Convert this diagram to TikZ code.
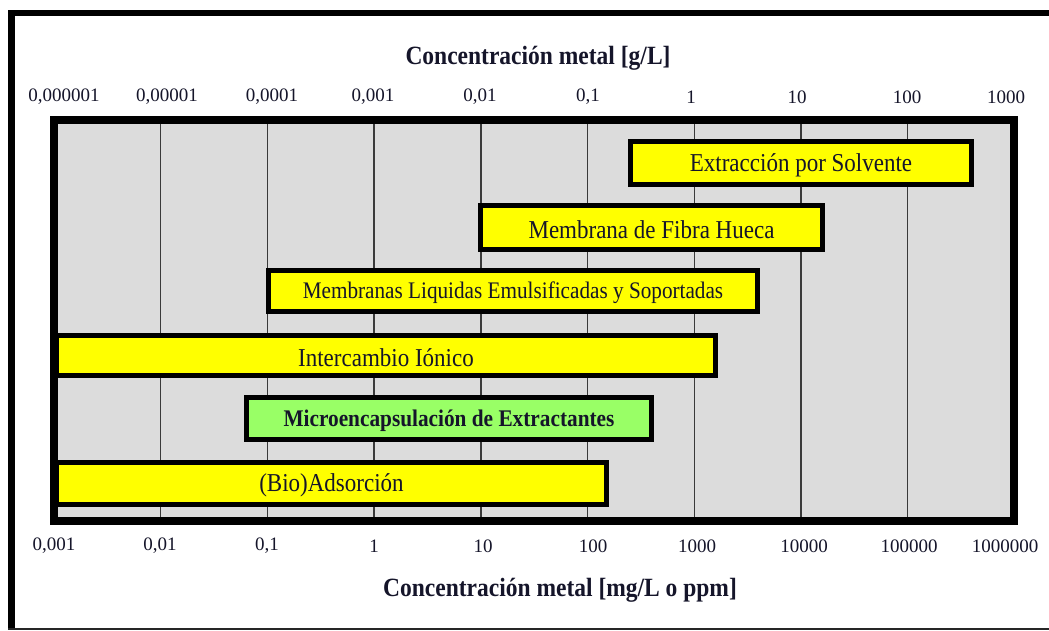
\documentclass[tikz,border=0pt]{standalone}
\usepackage{fontspec}
\setmainfont{Liberation Serif}
\definecolor{plotbg}{HTML}{DCDCDC}
\definecolor{baryellow}{HTML}{FFFF00}
\definecolor{bargreen}{HTML}{99FF66}
\definecolor{txt}{HTML}{15152A}
\definecolor{gridc}{HTML}{3A3A3A}
\newcommand\bartext[1]{\raisebox{-2pt}[\height][\depth]{\scalebox{1}[1.12]{#1}}}
\begin{document}
\begin{tikzpicture}[x=1pt,y=-1pt,
  barbox/.style={draw=black,line width=5pt,fill=baryellow,inner sep=0pt,
    text=txt,font=\fontsize{23}{27}\selectfont},
  axlab/.style={text=txt,inner sep=0pt,font=\fontsize{19}{22}\selectfont},
  axtitle/.style={text=txt,inner sep=0pt,font=\fontsize{23.5}{27}\selectfont\bfseries},
  gridline/.style={draw=gridc,line width=1.4pt}]
\useasboundingbox (0,0) rectangle (1049,631);
\fill[white] (0,0) rectangle (1049,631);
% outer frame
\draw[line width=6.5pt] (1049,13) -- (11.5,13) -- (11.5,629);
\draw[line width=2pt,draw=black!85] (8,629) -- (1049,629);
% plot area
\fill[plotbg] (54,120) rectangle (1014,521);
\foreach \d in {1,...,8}{
  \draw[gridline] ({54+106.7*\d},124) -- ({54+106.7*\d},517);
}
\draw[line width=8pt] (54,120) rectangle (1014,521);
% bars
\node[barbox,minimum width=341pt,minimum height=43pt] (b1) at (801,163) {\bartext{Extracción por Solvente}};
\node[barbox,minimum width=342pt,minimum height=44pt] (b2) at (651.5,227.5) {\bartext{Membrana de Fibra Hueca}};
\node[barbox,minimum width=489pt,minimum height=41pt,font=\fontsize{21.2}{25}\selectfont] (b3) at (513,291) {\bartext{Membranas Liquidas Emulsificadas y Soportadas}};
\node[barbox,minimum width=659pt,minimum height=40pt] (b4) at (386,355.5) {\bartext{Intercambio Iónico}};
\node[barbox,fill=bargreen,minimum width=405pt,minimum height=42pt,font=\fontsize{21.3}{25}\selectfont\bfseries] (b5) at (449,418.5) {\bartext{Microencapsulación de Extractantes}};
\node[barbox,minimum width=550pt,minimum height=42pt] (b6) at (331.5,483.5) {\bartext{(Bio)Adsorción}};
% top axis
\node[axtitle] (ttop) at (538,58) {\scalebox{1}[1.12]{Concentración metal [g/L]}};
\foreach \x/\l [count=\i] in {64/{0,000001},167/{0,00001},272/{0,0001},373/{0,001},480/{0,01},588/{0,1},691/1,797/10,907/100,1006/1000}{
  \node[axlab] (t\i) at (\x,97) {\l};
}
% bottom axis
\foreach \x/\l [count=\i] in {54/{0,001},160/{0,01},267/{0,1},374/1,483/10,593/100,697/1000,804/10000,909/100000,1005/1000000}{
  \node[axlab] (u\i) at (\x,546) {\l};
}
\node[axtitle] (tbot) at (560,590) {\scalebox{1}[1.12]{Concentración metal [mg/L o ppm]}};
\end{tikzpicture}
\end{document}
